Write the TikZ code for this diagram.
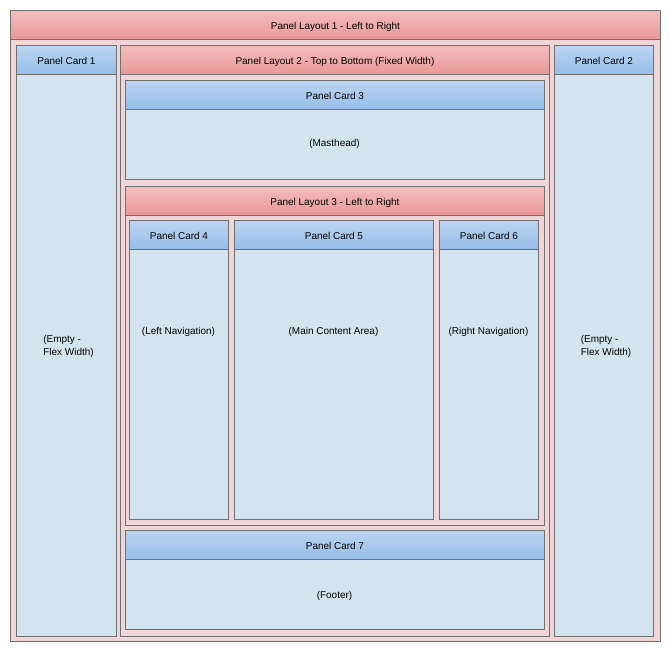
\documentclass[tikz,border=0pt]{standalone}
\usepackage{fontspec}
\setmainfont{Liberation Sans}
\begin{document}
\begin{tikzpicture}[x=1bp,y=-1bp,
    box/.style={draw=linegray,line width=0.9bp,anchor=north west,inner sep=0pt,font=\fontsize{10}{13}\selectfont},
    redhdr/.style={box,top color=redtop,bottom color=redbot,minimum height=29bp,text height=9.4bp,text depth=0pt},
    bluehdr/.style={box,top color=bluetop,bottom color=bluebot,minimum height=29bp,text height=9.4bp,text depth=0pt},
    pinkbody/.style={box,fill=pinkfill},
    bluebody/.style={box,fill=bluefill},
    txt/.style={inner sep=0pt,font=\fontsize{10}{13}\selectfont,align=left}]
  \definecolor{linegray}{HTML}{707070}
  \definecolor{redtop}{HTML}{F3BDBD}
  \definecolor{redbot}{HTML}{EA9797}
  \definecolor{bluetop}{HTML}{BCD5F1}
  \definecolor{bluebot}{HTML}{95BCE8}
  \definecolor{pinkfill}{HTML}{EFD5D5}
  \definecolor{bluefill}{HTML}{D4E4EE}
  \useasboundingbox[fill=white] (0,0) rectangle (670,652);
  % panel layout 1
  \node[pinkbody,minimum width=650bp,minimum height=602bp] (l1b) at (10,39) {};
  \node[redhdr,minimum width=650bp] (l1h) at (10,10) {Panel Layout 1 - Left to Right};
  % panel card 1
  \node[bluebody,minimum width=100bp,minimum height=562bp] (c1b) at (16,74) {};
  \node[bluehdr,minimum width=100bp] (c1h) at (16,45) {Panel Card 1};
  \node[txt] (c1t) at (68.5,346) {(Empty -\\Flex Width)};
  % panel layout 2
  \node[pinkbody,minimum width=429bp,minimum height=562bp] (l2b) at (120,74) {};
  \node[redhdr,minimum width=429bp] (l2h) at (120,45) {Panel Layout 2 - Top to Bottom (Fixed Width)};
  % panel card 3
  \node[bluebody,minimum width=419bp,minimum height=70bp] (c3b) at (125,109) {};
  \node[bluehdr,minimum width=419bp] (c3h) at (125,80) {Panel Card 3};
  \node[txt] (c3t) at (334.5,144) {(Masthead)};
  % panel layout 3
  \node[pinkbody,minimum width=419bp,minimum height=310bp] (l3b) at (125,215) {};
  \node[redhdr,minimum width=419bp] (l3h) at (125,186) {Panel Layout 3 - Left to Right};
  % panel cards 4, 5, 6
  \node[bluebody,minimum width=99bp,minimum height=270bp] (c4b) at (129,249) {};
  \node[bluehdr,minimum width=99bp] (c4h) at (129,220) {Panel Card 4};
  \node[txt] (c4t) at (178.5,331.5) {(Left Navigation)};
  \node[bluebody,minimum width=199bp,minimum height=270bp] (c5b) at (234,249) {};
  \node[bluehdr,minimum width=199bp] (c5h) at (234,220) {Panel Card 5};
  \node[txt] (c5t) at (333.5,331.5) {(Main Content Area)};
  \node[bluebody,minimum width=99bp,minimum height=270bp] (c6b) at (439,249) {};
  \node[bluehdr,minimum width=99bp] (c6h) at (439,220) {Panel Card 6};
  \node[txt] (c6t) at (488.5,331.5) {(Right Navigation)};
  % panel card 7
  \node[bluebody,minimum width=419bp,minimum height=70bp] (c7b) at (125,559) {};
  \node[bluehdr,minimum width=419bp] (c7h) at (125,530) {Panel Card 7};
  \node[txt] (c7t) at (334.5,595.5) {(Footer)};
  % panel card 2
  \node[bluebody,minimum width=99bp,minimum height=562bp] (c2b) at (554,74) {};
  \node[bluehdr,minimum width=99bp] (c2h) at (554,45) {Panel Card 2};
  \node[txt] (c2t) at (606,346) {(Empty -\\Flex Width)};
\end{tikzpicture}
\end{document}
